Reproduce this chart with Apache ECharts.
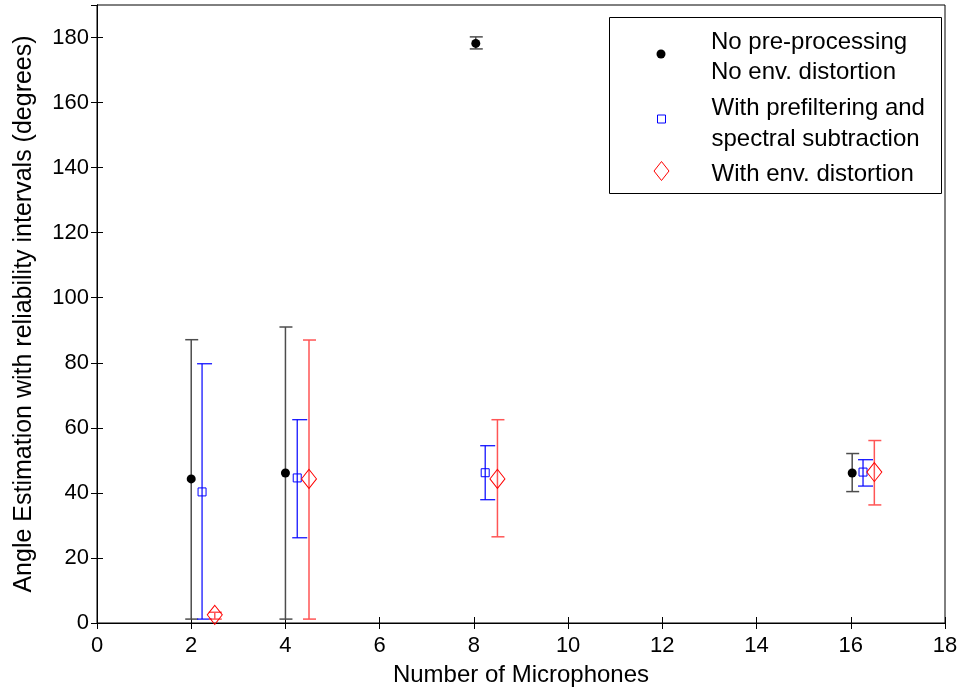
<!DOCTYPE html>
<html>
<head>
<meta charset="utf-8">
<script src="https://cdn.jsdelivr.net/npm/echarts@6/dist/echarts.min.js"></script>
<style>html,body{margin:0;padding:0;background:#fff}#c{width:965px;height:693px}</style>
</head>
<body>
<div id="c"></div>
<script>
// ---- data ----
const seriesNames = ['No pre-processing\nNo env. distortion', 'With prefiltering and\nspectral subtraction', 'With env. distortion'];
const xTicks = [0, 2, 4, 6, 8, 10, 12, 14, 16, 18];
const yTicks = [0, 20, 40, 60, 80, 100, 120, 140, 160, 180];

const blackX = [2, 4, 8.04, 16.03];
const blackMean = [44.3, 46.1, 178.2, 46.1];
const blackLow = [1.2, 1.2, 176.5, 40.4];
const blackHigh = [87.1, 91.0, 180.2, 52.1];

const blueX = [2.23, 4.25, 8.24, 16.26];
const blueMean = [40.3, 44.6, 46.2, 46.4];
const blueLow = [1.2, 26.2, 37.9, 42.1];
const blueHigh = [79.7, 62.5, 54.5, 50.2];

const redX = [2.5, 4.5, 8.5, 16.5];
const redMean = [2.5, 44.3, 44.3, 46.4];
const redLow = [1.2, 1.2, 26.5, 36.3];
const redHigh = [3.3, 87.0, 62.5, 56.1];

// ---- helpers ----
const FONT = '"Liberation Sans", Arial, sans-serif';
function pts(xs, ys) { return xs.map((x, i) => [x, ys[i]]); }
function bars(xs, lo, hi) { return xs.map((x, i) => [x, lo[i], hi[i]]); }
function errRenderer(color, lw, capL, capR) {
  return function (params, api) {
    const x = api.value(0), lo = api.value(1), hi = api.value(2);
    const a = api.coord([x, lo]), b = api.coord([x, hi]);
    const st = { stroke: color, lineWidth: lw };
    return {
      type: 'group',
      children: [
        { type: 'line', shape: { x1: a[0], y1: a[1], x2: b[0], y2: b[1] }, style: st },
        { type: 'line', shape: { x1: b[0] - capL, y1: b[1], x2: b[0] + capR, y2: b[1] }, style: st },
        { type: 'line', shape: { x1: a[0] - capL, y1: a[1], x2: a[0] + capR, y2: a[1] }, style: st }
      ]
    };
  };
}

const chart = echarts.init(document.getElementById('c'), null, { renderer: 'canvas' });

const tickLabelStyle = { fontFamily: FONT, fontSize: 22, color: '#000' };

function legendText(padLeft) {
  return { fontFamily: FONT, fontSize: 24, lineHeight: 30.5, color: '#000', padding: [0, 0, 0, padLeft] };
}
const legendCommon = {
  orient: 'vertical',
  padding: 0,
  symbolKeepAspect: true,
  selectedMode: false,
  z: 10
};

// legend icons: visible marker at top of the icon box, with a zero-length segment below
const iconCircle = 'path://M0 4.5A4.5 4.5 0 1 1 9 4.5A4.5 4.5 0 1 1 0 4.5ZM4.5 16L4.5 16';
const iconSquare = 'path://M0 0L8 0L8 8L0 8ZM4 18L4 18';
const iconDiamond = 'path://M7.5 0L15 9.5L7.5 19L0 9.5ZM7.5 25L7.5 25';

const option = {
  animation: false,
  backgroundColor: '#fff',
  grid: { left: 97, right: 20, top: 5, bottom: 70, show: true, borderColor: '#000', borderWidth: 1, backgroundColor: 'transparent' },
  xAxis: [{
    type: 'value', min: 0, max: 18, interval: 2,
    name: 'Number of Microphones', nameLocation: 'middle', nameGap: 40,
    nameTextStyle: { fontFamily: FONT, fontSize: 24, color: '#000' },
    axisLine: { lineStyle: { color: '#000', width: 1 } },
    axisTick: { inside: true, length: 6, lineStyle: { color: '#000' } },
    axisLabel: Object.assign({ margin: 12 }, tickLabelStyle),
    splitLine: { show: false }
  }, {
    type: 'value', min: 0, max: 18, interval: 2, position: 'top',
    axisLine: { lineStyle: { color: '#000', width: 1 } },
    axisTick: { inside: true, length: 6, lineStyle: { color: '#000' } },
    axisLabel: { show: false }, splitLine: { show: false }
  }],
  yAxis: [{
    type: 'value', min: 0, max: 190, interval: 20,
    name: 'Angle Estimation with reliability intervals (degrees)', nameLocation: 'middle', nameGap: 60,
    nameTextStyle: { fontFamily: FONT, fontSize: 25, color: '#000' },
    axisLine: { show: true, lineStyle: { color: '#000', width: 1 } },
    axisTick: { show: true, inside: true, length: 6, lineStyle: { color: '#000' } },
    axisLabel: Object.assign({ margin: 8, showMaxLabel: false, formatter: v => (yTicks.indexOf(v) >= 0 ? String(v) : '') }, tickLabelStyle),
    splitLine: { show: false }
  }, {
    type: 'value', min: 0, max: 190, interval: 20, position: 'right',
    axisLine: { show: true, lineStyle: { color: '#000', width: 1 } },
    axisTick: { show: true, inside: true, length: 6, lineStyle: { color: '#000' } },
    axisLabel: { show: false }, splitLine: { show: false }
  }],
  graphic: [{
    type: 'rect', left: 609, top: 17, shape: { width: 332, height: 176 },
    style: { fill: '#fff', stroke: '#000', lineWidth: 1 }, z: 5
  }],
  legend: [
    Object.assign({}, legendCommon, { left: 656.5, top: 27, itemWidth: 9, itemHeight: 16, textStyle: legendText(40.5), data: [{ name: seriesNames[0], icon: iconCircle, itemStyle: { color: '#000', borderWidth: 0 } }] }),
    Object.assign({}, legendCommon, { left: 657, top: 93.5, itemWidth: 8, itemHeight: 18, textStyle: legendText(41), data: [{ name: seriesNames[1], icon: iconSquare, itemStyle: { color: 'rgba(0,0,0,0)', borderColor: '#0000ff', borderWidth: 1 } }] }),
    Object.assign({}, legendCommon, { left: 653.5, top: 158.75, itemWidth: 15, itemHeight: 25, textStyle: legendText(37.5), data: [{ name: seriesNames[2], icon: iconDiamond, itemStyle: { color: 'rgba(0,0,0,0)', borderColor: '#ff0000', borderWidth: 1 } }] })
  ],
  series: [
    { type: 'custom', name: 'errBlack', renderItem: errRenderer('#4d4d4d', 1.5, 6, 7), data: bars(blackX, blackLow, blackHigh), z: 2, silent: true },
    { type: 'custom', name: 'errBlue', renderItem: errRenderer('#0000ff', 1.2, 5, 10), data: bars(blueX, blueLow, blueHigh), z: 2, silent: true },
    { type: 'custom', name: 'errRed', renderItem: errRenderer('#ff5555', 1.5, 6, 7), data: bars(redX, redLow, redHigh), z: 2, silent: true },
    { type: 'scatter', name: seriesNames[0], symbol: 'circle', symbolSize: 9, itemStyle: { color: '#000', opacity: 1 }, data: pts(blackX, blackMean), z: 3 },
    { type: 'scatter', name: seriesNames[1], symbol: 'rect', symbolSize: 8, itemStyle: { color: 'rgba(0,0,0,0)', borderColor: '#0000ff', borderWidth: 1, opacity: 1 }, data: pts(blueX, blueMean), z: 3 },
    { type: 'scatter', name: seriesNames[2], symbol: 'diamond', symbolSize: [15, 19], itemStyle: { color: 'rgba(0,0,0,0)', borderColor: '#ff0000', borderWidth: 1, opacity: 1 }, data: pts(redX, redMean), z: 3 }
  ]
};
chart.setOption(option);
</script>
</body>
</html>
